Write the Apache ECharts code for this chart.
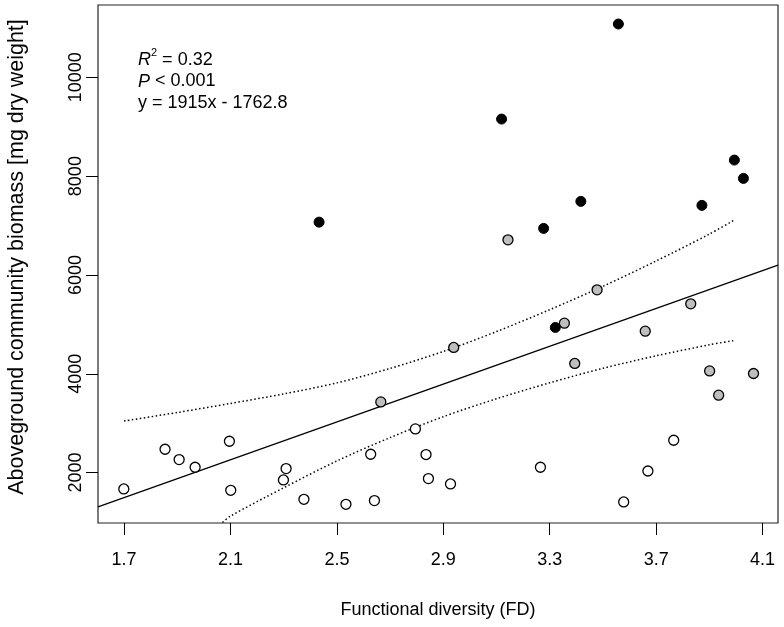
<!DOCTYPE html>
<html><head><meta charset="utf-8">
<script src="https://cdn.jsdelivr.net/npm/echarts@6/dist/echarts.min.js"></script>
<style>html,body{margin:0;padding:0;background:#fff}#c{width:784px;height:627px}</style>
</head><body><div id="c"></div>
<script>
// ---- data ----
const blackFD = [2.433, 3.119, 3.277, 3.321, 3.417, 3.558, 3.872, 3.994, 4.028];
const blackBM = [7069, 9155, 6942, 4937, 7489, 11079, 7408, 8325, 7954];
const grayFD = [2.665, 2.939, 3.143, 3.355, 3.394, 3.478, 3.659, 3.830, 3.901, 3.935, 4.066];
const grayBM = [3430, 4532, 6711, 5024, 4208, 5698, 4862, 5415, 4058, 3566, 4005];
const whiteFD = [1.699, 1.854, 1.907, 1.967, 2.096, 2.101, 2.299, 2.309, 2.376, 2.534, 2.627, 2.641, 2.795, 2.835, 2.844, 2.927, 3.265, 3.578, 3.669, 3.766];
const whiteBM = [1668, 2472, 2263, 2107, 2634, 1641, 1850, 2081, 1459, 1358, 2371, 1433, 2883, 2365, 1878, 1769, 2107, 1405, 2032, 2654];
const upperFD = [1.7, 1.9, 2.1, 2.3, 2.5, 2.7, 2.9, 3.1, 3.3, 3.5, 3.7, 3.9, 3.99];
const upperBM = [3043, 3216, 3399, 3592, 3815, 4108, 4451, 4854, 5297, 5770, 6283, 6826, 7100];
const lowerFD = [2.07, 2.1, 2.3, 2.5, 2.7, 2.9, 3.1, 3.3, 3.5, 3.7, 3.9, 3.99];
const lowerBM = [990, 1119, 1692, 2235, 2708, 3131, 3494, 3817, 4110, 4363, 4586, 4670];
const SLOPE = 1915, INTERCEPT = -1762.8;
const xTicks = [1.7, 2.1, 2.5, 2.9, 3.3, 3.7, 4.1];
const yTicks = [2000, 4000, 6000, 8000, 10000];
const xTitle = 'Functional diversity (FD)';
const yTitle = 'Aboveground community biomass [mg dry weight]';
const statLines = ['{i|R}{s|2}{n| = 0.32}', '{i|P}{n| < 0.001}', '{n|y = 1915x - 1762.8}'];

// ---- layout ----
const X_MIN = 1.602, X_MAX = 4.158, Y_MIN = 979, Y_MAX = 11464;
const FONT = 'Liberation Sans, Arial, sans-serif';
const zip = (a, b) => a.map((v, i) => [v, b[i]]);
const fitLine = [X_MIN, X_MAX].map(x => [x, SLOPE * x + INTERCEPT]);

const chart = echarts.init(document.getElementById('c'), null, {renderer: 'canvas'});
const axisCommon = {
  type: 'value',
  nameLocation: 'middle',
  nameTextStyle: {fontFamily: FONT, fontSize: 18, color: '#000'},
  axisLine: {show: false},
  splitLine: {show: false},
  axisTick: {show: true, length: 12, lineStyle: {color: '#000', width: 1}},
  axisLabel: {fontFamily: FONT, fontSize: 18, color: '#000'}
};
const rich = {
  i: {fontFamily: FONT, fontSize: 18, fontStyle: 'italic', color: '#000', verticalAlign: 'bottom', lineHeight: 22},
  s: {fontFamily: FONT, fontSize: 11, color: '#000', verticalAlign: 'top', lineHeight: 22},
  n: {fontFamily: FONT, fontSize: 18, color: '#000', verticalAlign: 'bottom', lineHeight: 22}
};
chart.setOption({
  animation: false,
  backgroundColor: '#fff',
  grid: {left: 98, right: 6, top: 5, bottom: 104, outerBoundsMode: 'none', containLabel: false,
         show: true, borderColor: '#222', borderWidth: 1.2, backgroundColor: 'transparent'},
  xAxis: Object.assign({}, axisCommon, {
    min: X_MIN, max: X_MAX, name: xTitle, nameGap: 78,
    axisTick: Object.assign({}, axisCommon.axisTick, {customValues: xTicks}),
    axisLabel: Object.assign({}, axisCommon.axisLabel, {customValues: xTicks, margin: 28, formatter: v => v.toFixed(1)})
  }),
  yAxis: Object.assign({}, axisCommon, {
    min: Y_MIN, max: Y_MAX, name: yTitle, nameGap: 70, nameRotate: 90,
    nameTextStyle: {fontFamily: FONT, fontSize: 21.5, color: '#000', padding: [0, 0, 0, 14]},
    axisTick: Object.assign({}, axisCommon.axisTick, {customValues: yTicks}),
    axisLabel: Object.assign({}, axisCommon.axisLabel, {customValues: yTicks, rotate: 90, margin: 13, formatter: v => String(v)})
  }),
  graphic: statLines.map((t, k) => ({
    type: 'text', x: 138, y: 47 + k * 21.5, z: 10,
    style: {text: t, rich: rich, font: '18px ' + FONT, fill: '#000'}
  })),
  series: [
    {type: 'line', data: fitLine, showSymbol: false, symbol: 'none', lineStyle: {color: '#000', width: 1.3}, z: 2},
    {type: 'line', data: zip(upperFD, upperBM), showSymbol: false, symbol: 'none', smooth: 0.3, lineStyle: {color: '#000', width: 1.5, type: [1.5, 2.5]}, z: 2},
    {type: 'line', data: zip(lowerFD, lowerBM), showSymbol: false, symbol: 'none', smooth: 0.3, lineStyle: {color: '#000', width: 1.5, type: [1.5, 2.5]}, z: 2},
    {type: 'scatter', data: zip(whiteFD, whiteBM), symbol: 'circle', symbolSize: 10, itemStyle: {color: '#fff', borderColor: '#000', borderWidth: 1.3, opacity: 1}, z: 3},
    {type: 'scatter', data: zip(grayFD, grayBM), symbol: 'circle', symbolSize: 10, itemStyle: {color: '#bebebe', borderColor: '#000', borderWidth: 1.3, opacity: 1}, z: 3},
    {type: 'scatter', data: zip(blackFD, blackBM), symbol: 'circle', symbolSize: 10, itemStyle: {color: '#000', borderColor: '#000', borderWidth: 1, opacity: 1}, z: 3}
  ]
});
</script>
</body></html>
